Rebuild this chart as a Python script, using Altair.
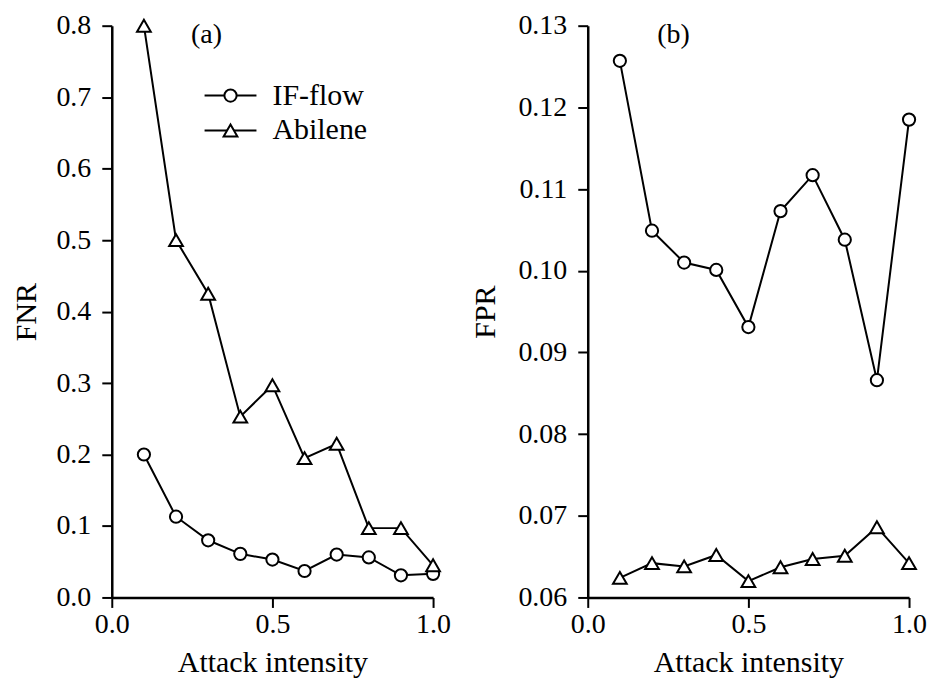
import altair as alt
import pandas as pd

intensity = [0.1, 0.2, 0.3, 0.4, 0.5, 0.6, 0.7, 0.8, 0.9, 1.0]
fnr_if = [0.200, 0.113, 0.080, 0.061, 0.053, 0.037, 0.060, 0.056, 0.031, 0.033]
fnr_ab = [0.800, 0.500, 0.425, 0.253, 0.297, 0.195, 0.215, 0.097, 0.097, 0.045]
fpr_if = [0.1257, 0.1049, 0.1010, 0.1001, 0.0931, 0.1073, 0.1117, 0.1038, 0.0866, 0.1185]
fpr_ab = [0.0624, 0.0642, 0.0638, 0.0652, 0.0620, 0.0637, 0.0647, 0.0651, 0.0686, 0.0642]
series = ["IF-flow", "Abilene"]
shapes = ["circle", "triangle-up"]

FONT = "Liberation Serif"
W, H = 322, 573

def frame(a, b):
    rows = []
    for x, v in zip(intensity, a):
        rows.append({"x": x, "y": v, "s": series[0]})
    for x, v in zip(intensity, b):
        rows.append({"x": x, "y": v, "s": series[1]})
    return pd.DataFrame(rows)

xaxis = alt.Axis(values=[0, 0.5, 1.0], format=".1f", title="Attack intensity")

def panel(df, ytitle, ydom, yvals, yfmt, label, labx, tpad, legend=False):
    base = alt.Chart(df)
    x = alt.X("x:Q", scale=alt.Scale(domain=[0, 1], nice=False, zero=False), axis=xaxis)
    y = alt.Y("y:Q", scale=alt.Scale(domain=ydom, nice=False, zero=False),
              axis=alt.Axis(values=yvals, format=yfmt, title=ytitle, titlePadding=tpad))
    line = base.mark_line(color="black", strokeWidth=2).encode(x=x, y=y, detail="s:N")
    pts = base.mark_point(filled=True, fill="white", stroke="black", strokeWidth=2, opacity=1).encode(
        x=x, y=y,
        shape=alt.Shape("s:N", scale=alt.Scale(domain=series, range=shapes), legend=None),
        size=alt.Size("s:N", scale=alt.Scale(domain=series, range=[150, 190]), legend=None),
    )
    lab = alt.Chart(pd.DataFrame({"t": [label]})).mark_text(
        font=FONT, fontSize=28, align="center", baseline="middle", color="black"
    ).encode(x=alt.value(labx), y=alt.value(9), text="t:N")
    layers = [line, pts, lab]
    if legend:
        ldf = pd.DataFrame({"s": series, "yy": [70, 105]})
        lb = alt.Chart(ldf)
        lrule = lb.mark_rule(color="black", strokeWidth=2).encode(
            x=alt.value(93), x2=alt.value(145), y=alt.Y("yy:Q", scale=None))
        lpt = lb.mark_point(filled=True, fill="white", stroke="black", strokeWidth=2, opacity=1).encode(
            x=alt.value(119), y=alt.Y("yy:Q", scale=None),
            shape=alt.Shape("s:N", scale=alt.Scale(domain=series, range=shapes), legend=None),
            size=alt.Size("s:N", scale=alt.Scale(domain=series, range=[150, 190]), legend=None))
        ltxt = lb.mark_text(font=FONT, fontSize=30, align="left", baseline="middle", color="black").encode(
            x=alt.value(161), y=alt.Y("yy:Q", scale=None), text="s:N")
        layers += [lrule, lpt, ltxt]
    return alt.layer(*layers).properties(width=W, height=H)

left = panel(frame(fnr_if, fnr_ab), "FNR", [0, 0.8],
             [0, 0.1, 0.2, 0.3, 0.4, 0.5, 0.6, 0.7, 0.8], ".1f", "(a)", 95, 14, legend=True)
right = panel(frame(fpr_if, fpr_ab), "FPR", [0.06, 0.13],
              [0.06, 0.07, 0.08, 0.09, 0.10, 0.11, 0.12, 0.13], ".2f", "(b)", 86, 17)

chart = alt.hconcat(left, right, spacing=20).properties(
    padding={"left": 4, "top": 3, "right": 0, "bottom": 2}
).configure_view(stroke=None).configure_axis(
    grid=False, domainColor="black", domainWidth=2.5, tickColor="black", tickWidth=2, tickSize=10,
    labelFont=FONT, labelFontSize=28, labelColor="black",
    titleFont=FONT, titleFontSize=30, titleColor="black", titleFontWeight="normal",
).configure_axisY(labelPadding=11).configure_axisX(titlePadding=9, labelPadding=3, labelFlush=False)

chart.save("out.html", embed_options={"renderer": "svg", "actions": False})
